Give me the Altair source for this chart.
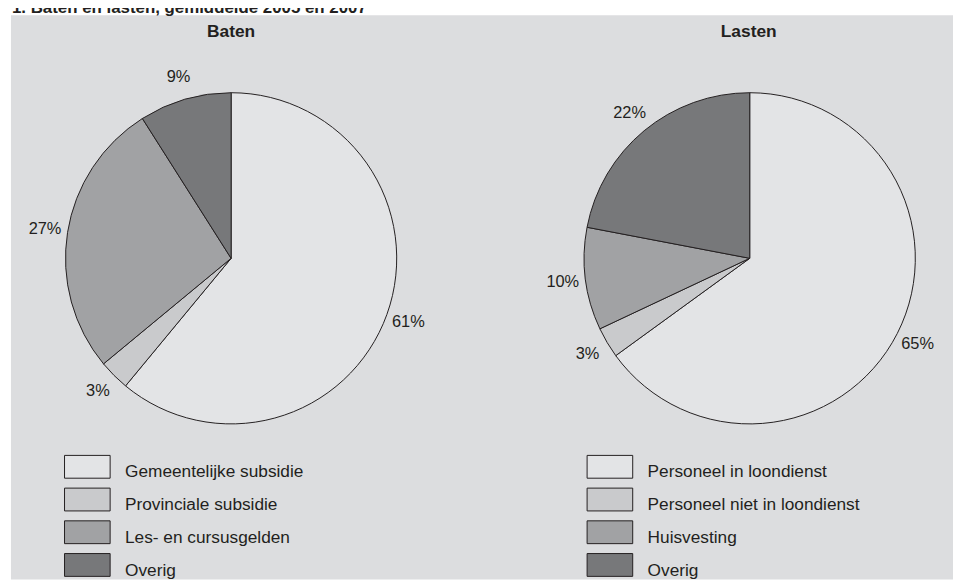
import altair as alt
import pandas as pd

# ---- data ----
page_title = "1. Baten en lasten, gemiddelde 2005 en 2007"
pie_titles = ["Baten", "Lasten"]
baten_cats = ["Gemeentelijke subsidie", "Provinciale subsidie", "Les- en cursusgelden", "Overig"]
baten_vals = [61, 3, 27, 9]
lasten_cats = ["Personeel in loondienst", "Personeel niet in loondienst", "Huisvesting", "Overig"]
lasten_vals = [65, 3, 10, 22]

# ---- styling ----
GRAYS = ["#e3e4e6", "#c9cacc", "#a1a2a4", "#77787a"]
PANEL = "#dcdddf"
INK = "#231f20"
FONT = "Liberation Sans"
W, H = 953, 574
R = 167
LABEL_R = 190
PANEL_TOP = 5


def frame(cats, vals):
    return pd.DataFrame({
        "cat": cats,
        "val": vals,
        "order": list(range(len(cats))),
        "label": [f"{v}%" for v in vals],
    })


def pie_layers(cats, vals, cx, cy, lx, ly):
    df = frame(cats, vals)
    base = alt.Chart(df).encode(
        theta=alt.Theta("val:Q", stack=True),
        order=alt.Order("order:Q"),
        x=alt.value(cx),
        y=alt.value(cy),
    )
    arc = base.mark_arc(outerRadius=R, stroke=INK, strokeWidth=1).encode(
        color=alt.Color(
            "cat:N",
            sort=cats,
            scale=alt.Scale(domain=cats, range=GRAYS),
            legend=alt.Legend(
                title=None,
                orient="none",
                legendX=lx,
                legendY=ly,
                symbolType="M-2,-1.5H2V0.5H-2Z",
                symbolSize=529,
                symbolStrokeColor=INK,
                symbolStrokeWidth=1,
                symbolOpacity=1,
                labelFont=FONT,
                labelFontSize=17.4,
                labelColor=INK,
                labelOffset=26,
                labelLimit=400,
                rowPadding=4,
                padding=0,
            ),
        )
    )
    text = base.mark_text(radius=LABEL_R, font=FONT, fontSize=16.5, color=INK).encode(
        text="label:N", detail="cat:N"
    )
    return arc, text


one = pd.DataFrame({"k": [0]})
bg = alt.Chart(one).mark_rect(color=PANEL).encode(
    x=alt.value(3), x2=alt.value(W), y=alt.value(PANEL_TOP), y2=alt.value(H)
)

b_arc, b_text = pie_layers(baten_cats, baten_vals, 225, 250, 68, 454)
l_arc, l_text = pie_layers(lasten_cats, lasten_vals, 748, 250, 595, 454)

t_b = alt.Chart(one).mark_text(font=FONT, fontSize=17.5, fontWeight="bold", color=INK).encode(
    x=alt.value(225), y=alt.value(22), text=alt.value(pie_titles[0])
)
t_l = alt.Chart(one).mark_text(font=FONT, fontSize=17.5, fontWeight="bold", color=INK).encode(
    x=alt.value(747), y=alt.value(22), text=alt.value(pie_titles[1])
)
t_page = alt.Chart(one).mark_text(
    font=FONT, fontSize=17, fontWeight="bold", color=INK, align="left", baseline="alphabetic"
).encode(x=alt.value(4), y=alt.value(3), text=alt.value(page_title))

chart = (
    alt.layer(bg, b_arc, b_text, l_arc, l_text, t_b, t_l, t_page)
    .resolve_scale(color="independent", theta="independent")
    .properties(width=W, height=H, autosize="none", padding=0, background="white")
    .configure_view(stroke=None)
)

chart.save("out.html", embed_options={"renderer": "svg", "actions": False})
